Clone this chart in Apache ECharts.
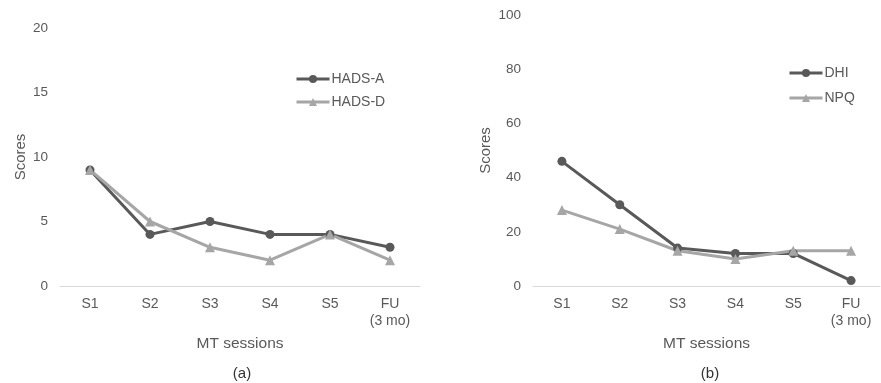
<!DOCTYPE html>
<html><head><meta charset="utf-8">
<script src="https://cdn.jsdelivr.net/npm/echarts@6/dist/echarts.min.js"></script>
<style>html,body{margin:0;padding:0;background:#fff}#c{width:881px;height:383px}</style>
</head><body><div id="c"></div>
<script>
const categories = ['S1','S2','S3','S4','S5','FU\n(3 mo)'];
const hadsA = [9,4,5,4,4,3];
const hadsD = [9,5,3,2,4,2];
const dhi = [46,30,14,12,12,2];
const npq = [28,21,13,10,13,13];
const leftTicks = {min:0,max:20,interval:5};
const rightTicks = {min:0,max:100,interval:20};

const dark = '#595959', light = '#a6a6a6', txt = '#595959';
const font = 'Arial, "Liberation Sans", sans-serif';
const chart = echarts.init(document.getElementById('c'));

function xAx(i){return {type:'category',gridIndex:i,data:categories,boundaryGap:true,
  axisLine:{lineStyle:{color:'#d9d9d9'}},axisTick:{show:false},
  axisLabel:{color:txt,fontSize:14,fontFamily:font,margin:10,lineHeight:17},
  name:'MT sessions',nameLocation:'middle',nameGap:50,
  nameTextStyle:{color:txt,fontSize:15.5,fontFamily:font}};}
function yAx(i,t){return {type:'value',gridIndex:i,min:t.min,max:t.max,interval:t.interval,
  axisLine:{show:false},axisTick:{show:false},splitLine:{show:false},
  axisLabel:{color:txt,fontSize:13.5,fontFamily:font,margin:12},
  name:'Scores',nameLocation:'middle',nameGap:i===0?32:40,nameRotate:90,
  nameTextStyle:{color:txt,fontSize:15,fontFamily:font}};}
function ser(name,data,i,color,sym){return {name,type:'line',xAxisIndex:i,yAxisIndex:i,data,
  symbol:sym,symbolSize:sym==='circle'?9:10,
  lineStyle:{color,width:3},itemStyle:{color},emphasis:{disabled:true}};}

const legendBase = {orient:'vertical',padding:0,itemWidth:33,itemHeight:10,
  lineStyle:{width:3},textStyle:{color:txt,fontSize:14,fontFamily:font,padding:[0,0,0,-3]}};

chart.setOption({
  animation:false,
  textStyle:{fontFamily:font},
  grid:[{left:60,right:461,top:28,bottom:97},{left:533,right:1,top:15,bottom:97}],
  xAxis:[xAx(0),xAx(1)],
  yAxis:[yAx(0,leftTicks),yAx(1,rightTicks)],
  legend:[
    Object.assign({data:['HADS-A','HADS-D'],left:295,top:72,itemGap:9},legendBase),
    Object.assign({data:['DHI','NPQ'],left:788,top:66,itemGap:11},legendBase)
  ],
  title:[
    {text:'(a)',left:237,top:361,textAlign:'center',textStyle:{color:'#333',fontSize:15,fontWeight:'normal',fontFamily:font}},
    {text:'(b)',left:705,top:361,textAlign:'center',textStyle:{color:'#333',fontSize:15,fontWeight:'normal',fontFamily:font}}
  ],
  series:[
    ser('HADS-A',hadsA,0,dark,'circle'),
    ser('HADS-D',hadsD,0,light,'triangle'),
    ser('DHI',dhi,1,dark,'circle'),
    ser('NPQ',npq,1,light,'triangle')
  ]
});
</script></body></html>
